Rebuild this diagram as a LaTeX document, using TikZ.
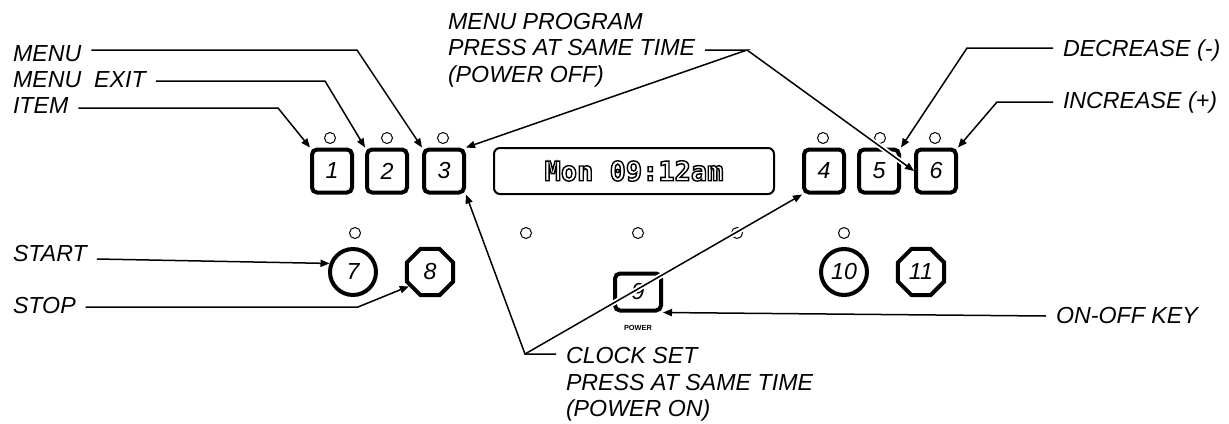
\documentclass[tikz,border=0pt]{standalone}
\usepackage{fontspec}
\setmainfont{Liberation Sans}
\newfontfamily\lcdfont{DejaVu Sans Mono}
\usetikzlibrary{arrows.meta,shapes.geometric}
\definecolor{ink}{HTML}{000000}
\newcommand{\tagfont}{\itshape\fontsize{11.6}{13.4}\selectfont}
\newcommand{\hollow}[1]{\special{pdf:literal direct 1 Tr 0.7 w}#1\special{pdf:literal direct 0 Tr}}
\tikzset{
  >={Triangle[length=4.5pt,width=3.6pt]},
  keybox/.style={draw=ink,rounded corners=2.5pt,line width=2pt,minimum width=20pt,
    minimum height=21.5pt,inner sep=0pt,font=\tagfont},
  roundkey/.style={circle,draw=ink,line width=2pt,minimum size=23pt,inner sep=0pt,font=\tagfont},
  stopkey/.style={regular polygon,regular polygon sides=8,draw=ink,line width=2pt,
    minimum size=25pt,inner sep=0pt,font=\tagfont},
  lamp/.style={circle,draw=ink,line width=.5pt,minimum size=5.5pt,inner sep=0pt},
  tag/.style={anchor=west,inner sep=0pt,outer xsep=5pt,outer ysep=0pt,align=left,font=\tagfont},
  lead/.style={->,line width=.75pt,draw=ink},
  halo/.style={preaction={draw=white,line width=2.6pt,-,shorten >=4pt}},
  lcd/.style={draw=ink,rounded corners=3pt,line width=1pt,minimum width=140pt,
    minimum height=23pt,inner sep=0pt,font=\lcdfont\bfseries\fontsize{13.5}{14}\selectfont},
}

\begin{document}
\begin{tikzpicture}[x=.5pt,y=-.5pt]
  \useasboundingbox (0,0) rectangle (1229,423);

  % top row of keys and display
  \node[keybox] (k1) at (332,171) {1};
  \node[keybox] (k2) at (387,171) {2};
  \node[keybox] (k3) at (444,171) {3};
  \node[lcd] (disp) at (634,171) {\hollow{Mon 09:12am}};
  \node[keybox] (k4) at (824,171) {4};
  \node[keybox] (k5) at (879,171) {5};
  \node[keybox] (k6) at (936,171) {6};
  \foreach \x in {330,387,443,823,880,935}
    \node[lamp] at (\x,138) {};

  % lower row
  \node[roundkey] (k7) at (353,272) {7};
  \node[stopkey] (k8) at (430,272) {8};
  \node[keybox,minimum width=23pt,minimum height=18.5pt] (k9) at (638,292) {\raisebox{-4pt}{9}};
  \node[font=\bfseries\fontsize{3.7}{4}\selectfont,inner sep=0pt] (pwr) at (638,328) {POWER};
  \node[roundkey] (k10) at (844,272) {10};
  \node[stopkey] (k11) at (921,272) {11};
  \foreach \x in {355,526,638,737,844}
    \node[lamp] at (\x,233) {};

  % labels
  \node[tag] (menu) at (3,53.5) {MENU};
  \node[tag] (menuexit) at (3,80) {MENU\ \ EXIT};
  \node[tag] (item) at (3,106) {ITEM};
  \node[tag] (start) at (3,254) {START};
  \node[tag] (stop) at (3,306) {STOP};
  \node[tag,anchor=north west] (program) at (438,13)
    {MENU PROGRAM\\PRESS AT SAME TIME\\(POWER OFF)};
  \node[tag] (decrease) at (1053,50) {DECREASE (-)};
  \node[tag] (increase) at (1053,102) {INCREASE (+)};
  \node[tag] (onoff) at (1046,316) {ON-OFF KEY};
  \node[tag,anchor=north west] (clock) at (556,347)
    {CLOCK SET\\PRESS AT SAME TIME\\(POWER ON)};

  \coordinate (mb) at (357,50);
  \coordinate (eb) at (325,81);
  \coordinate (ib) at (278,108);
  \coordinate (sb) at (358,307);
  \coordinate (pv) at (747,50);
  \coordinate (db) at (967,48);
  \coordinate (nb) at (997,102);
  \coordinate (cv) at (525,354);

  % leaders that cross other parts go first
  \draw[lead,halo] (pv) -- (k6.west);
  \draw[lead,halo] (cv) -- (k4.south west);

  \draw[lead] (menu.east |- mb) -- (mb) -- (k3.north west);
  \draw[lead] (menuexit.east |- eb) -- (eb) -- (k2.north west);
  \draw[lead] (item.east |- ib) -- (ib) -- (k1.north west);
  \draw[lead] ([yshift=-2.5pt]start.east) -- (k7.160);
  \draw[lead] (stop.east |- sb) -- (sb) -- (k8.214);
  \draw[lead] (program.east |- pv) -- (pv) -- (k3.north east);
  \draw[lead] (decrease.west |- db) -- (db) -- (k5.north east);
  \draw[lead] (increase.west |- nb) -- (nb) -- (k6.north east);
  \draw[lead] (onoff.west) -- (k9.south east);
  \draw[lead] (clock.west |- cv) -- (cv) -- (k3.south east);
\end{tikzpicture}
\end{document}
